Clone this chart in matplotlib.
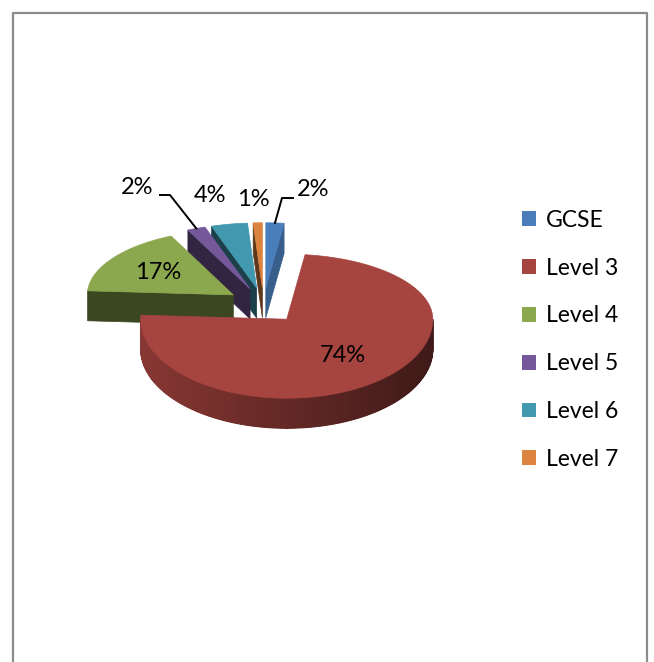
import numpy as np
import matplotlib
matplotlib.use("Agg")
import matplotlib.pyplot as plt
from matplotlib.patches import Polygon, Patch
from matplotlib.colors import to_rgb


# Data
categories = ["GCSE", "Level 3", "Level 4", "Level 5", "Level 6", "Level 7"]
values = [2, 74, 17, 2, 4, 1]
colors = ["#4A7EBB", "#A6443F", "#8CA84F", "#74589A", "#4198AF", "#DD8340"]


# 3D pie layout (pixel units of the figure)
cx, cy = 263.5, 304
rx, ry_back, ry_front = 146, 65, 79
depth = 30
explode = 0.25

# label placement: inside slices (fraction of radius) or fixed outside spots
inside_frac = {1: 0.6, 2: 0.62}
outside_pos = {0: (313, 190), 3: (137, 188), 4: (210, 195), 5: (253, 199)}
leader_elbow = {0: [(282, 198), (293, 198)], 3: [(170, 195), (160, 195)]}


def shade(c, f):
    r, g, b = to_rgb(c)
    return (r * f, g * f, b * f)


def ry(t):
    return np.where(np.cos(t) > 0, ry_back, ry_front)


def rim(t, ox, oy):
    # t in radians, clockwise from 12 o'clock
    return ox + rx * np.sin(t), oy - ry(t) * np.cos(t)


fig = plt.figure(figsize=(6.54, 6.62), dpi=100)
ax = fig.add_axes([0, 0, 1, 1])
ax.set_xlim(0, 654)
ax.set_ylim(662, 0)
ax.axis("off")

total = sum(values)
bounds = np.concatenate([[0], np.cumsum(values)]) / total * 2 * np.pi

slices = []
for i in range(len(values)):
    s, e = bounds[i], bounds[i + 1]
    m = (s + e) / 2
    ox = cx + explode * rx * np.sin(m)
    oy = cy - explode * float(ry(m)) * np.cos(m)
    slices.append((oy, i, s, e, m, ox))

# back to front
for oy, i, s, e, m, ox in sorted(slices):
    c = colors[i]

    # cut faces
    if np.sin(s) < -1e-6:
        x1, y1 = rim(s, ox, oy)
        ax.add_patch(Polygon([(ox, oy), (x1, y1), (x1, y1 + depth), (ox, oy + depth)],
                             closed=True, fc=shade(c, 0.42), ec=shade(c, 0.42), lw=0.5))
    if np.sin(e) > 1e-6:
        x1, y1 = rim(e, ox, oy)
        ax.add_patch(Polygon([(ox, oy), (x1, y1), (x1, y1 + depth), (ox, oy + depth)],
                             closed=True, fc=shade(c, 0.75), ec=shade(c, 0.75), lw=0.5))

    # outer wall, front half only, with a left-to-right darkening
    lo, hi = max(s, np.pi / 2), min(e, 3 * np.pi / 2)
    if hi > lo:
        ts = np.linspace(lo, hi, int(np.degrees(hi - lo)) + 2)
        xs, ys = rim(ts, ox, oy)
        wall = list(zip(xs, ys)) + list(zip(xs[::-1], ys[::-1] + depth))
        ax.add_patch(Polygon(wall, closed=True, fc=shade(c, 0.6), ec="none"))
        for k in range(len(ts) - 1):
            f = 0.6 - 0.22 * np.sin((ts[k] + ts[k + 1]) / 2)
            col = shade(c, f)
            ax.add_patch(Polygon([(xs[k], ys[k]), (xs[k + 1], ys[k + 1]),
                                  (xs[k + 1], ys[k + 1] + depth), (xs[k], ys[k] + depth)],
                                 closed=True, fc=col, ec=col, lw=0.8))

    # top face
    ts = np.linspace(s, e, max(3, int(np.degrees(e - s)) + 2))
    xs, ys = rim(ts, ox, oy)
    pts = [(ox, oy)] + list(zip(xs, ys))
    ax.add_patch(Polygon(pts, closed=True, fc=c, ec=c, lw=0.5))

# labels
for oy, i, s, e, m, ox in slices:
    txt = f"{values[i] / total * 100:.0f}%"
    if i in inside_frac:
        xr, yr = rim(m, ox, oy)
        fr = inside_frac[i]
        lx, ly = ox + fr * (xr - ox), oy + fr * (float(yr) - oy)
    else:
        lx, ly = outside_pos[i]
    ax.text(lx, ly, txt, fontsize=17, family="Lato", ha="center", va="center")
    if i in leader_elbow:
        xr, yr = rim(m, ox, oy)
        pts = [(xr, float(yr))] + leader_elbow[i]
        ax.plot([p[0] for p in pts], [p[1] for p in pts], color="black", lw=1.4)

# chart border
ax.plot([12.5, 12.5, 647, 647], [662, 12.5, 12.5, 662], color="#8C8C8C", lw=1.6)

handles = [Patch(facecolor=c, edgecolor="none") for c in colors]
ax.legend(handles, categories, loc="upper left", bbox_to_anchor=(0.798, 0.683),
          frameon=False, prop={"family": "Lato", "size": 16.5},
          handlelength=0.62, handleheight=0.62, handletextpad=0.42,
          labelspacing=1.17, borderpad=0, borderaxespad=0)

plt.savefig("out.png", dpi=100)
